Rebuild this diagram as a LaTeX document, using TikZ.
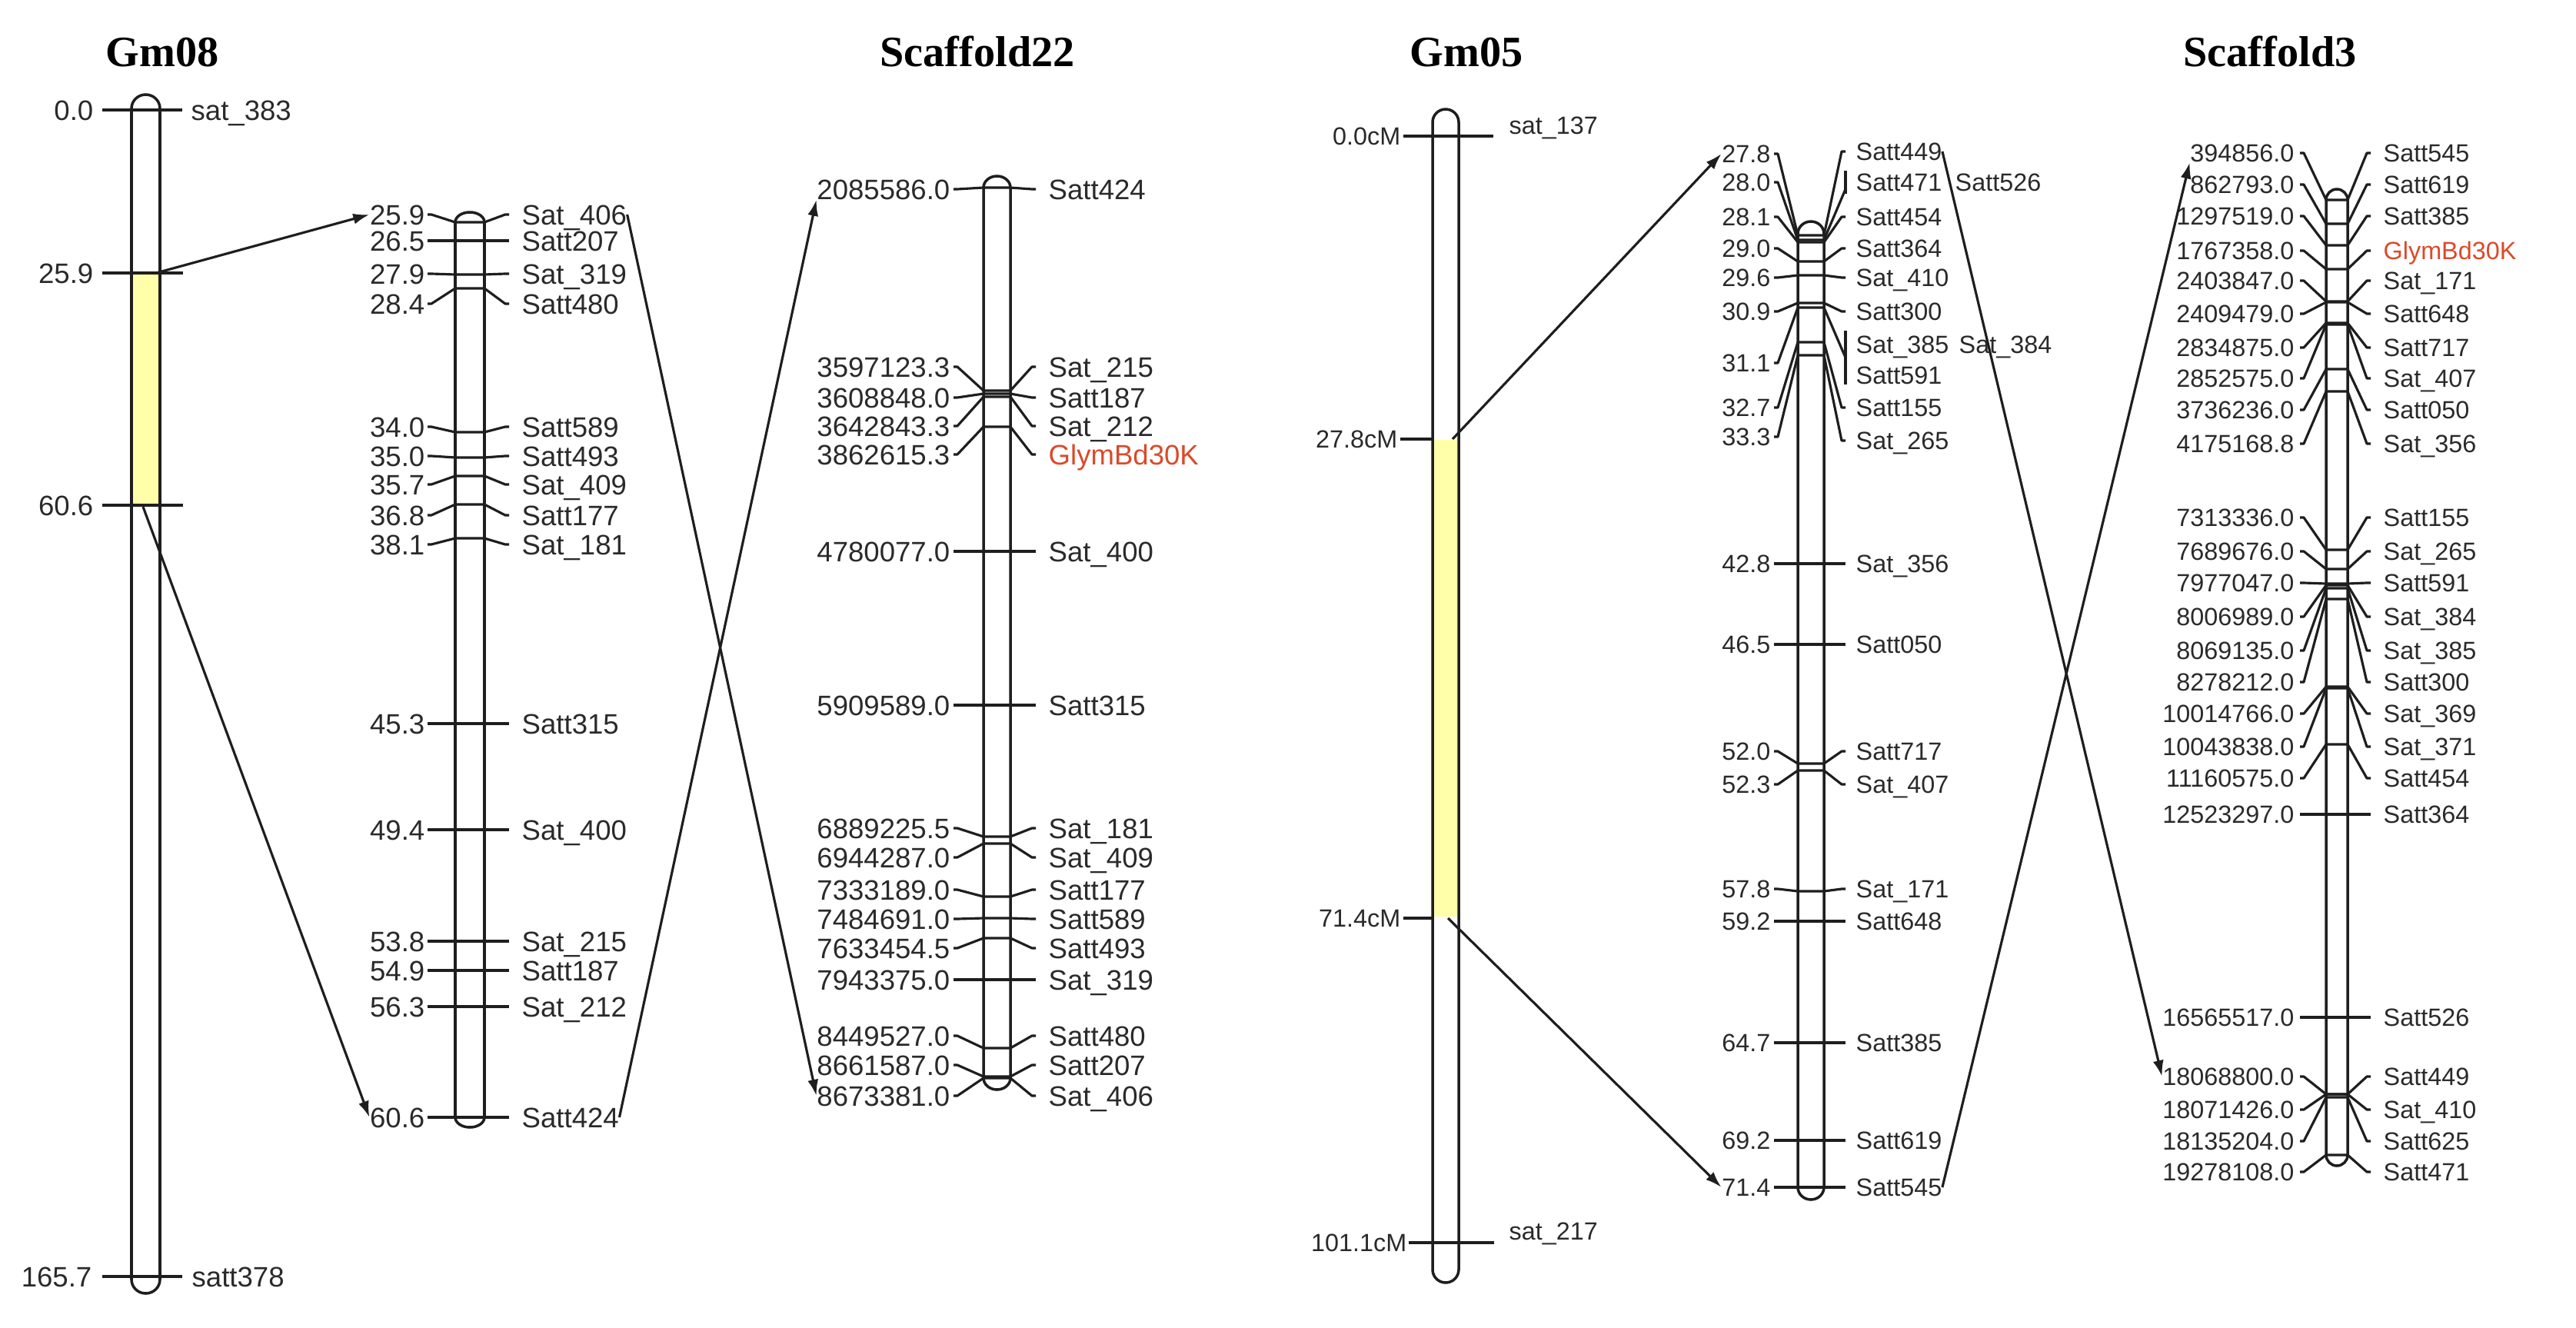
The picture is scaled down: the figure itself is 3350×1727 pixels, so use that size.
\documentclass[tikz,border=0pt]{standalone}
\usepackage{fontspec}
\setmainfont{Liberation Sans}
\newfontfamily\titlefont{Liberation Serif}
\usetikzlibrary{arrows.meta}
\definecolor{txt}{HTML}{2A2A2A}
\definecolor{ln}{HTML}{1E1E1E}
\definecolor{ylw}{HTML}{FFFFAA}
\definecolor{glym}{HTML}{DA4A2A}
\newcommand\setlg[6]{\def\lgLX{#1}\def\lgLS{#2}\def\lgBL{#3}\def\lgBR{#4}\def\lgRE{#5}\def\lgRX{#6}}
\newcommand\chrbar[5]{%
  \draw[barline] ({#1-#2},-#3) arc[start angle=180,end angle=0,x radius=#2,y radius=#5]
    -- ({#1+#2},-#4) arc[start angle=0,end angle=-180,x radius=#2,y radius=#5] -- cycle;}
\newcommand\mkb[6]{%
  \node[lbl,anchor=east] (#1n) at (\lgLX,-#2) {#5};
  \node[lbl,anchor=west] (#1m) at (\lgRX,-#4) {#6};
  \draw[mkline] (\lgLS,-#2) -- ({\lgLS+5},-#2) -- (\lgBL,-#3) -- (\lgBR,-#3) -- ({\lgRE-5},-#4) -- (\lgRE,-#4);}
\newcommand\mk[5]{\mkb{#1}{#2}{#3}{#2}{#4}{#5}}
\begin{document}
\begin{tikzpicture}[x=0.01cm,y=0.01cm,
  lblA/.style={font=\fontsize{10.4}{12}\selectfont, text=txt, inner sep=0pt, text height=7.4pt, text depth=0pt},
  lblB/.style={font=\fontsize{9.2}{11}\selectfont, text=txt, inner sep=0pt, text height=6.6pt, text depth=0pt},
  lbl/.style={lblA},
  ttl/.style={font=\titlefont\bfseries\fontsize{16}{19}\selectfont, anchor=base, inner sep=0pt},
  mkline/.style={draw=ln, line width=0.9pt, line join=round},
  barline/.style={draw=ln, line width=1.0pt},
  conn/.style={draw=ln, line width=0.9pt, -{Latex[length=6pt,width=4pt]}}]
\fill[white] (0,-1727) rectangle (3350,0);
\useasboundingbox (0,-1727) rectangle (3350,0);

% titles
\node[ttl] (t1) at (211,-87) {Gm08};
\node[ttl] (t2) at (1271,-87) {Scaffold22};
\node[ttl] (t3) at (1907,-87) {Gm05};
\node[ttl] (t4) at (2952,-87) {Scaffold3};

% ---------- Gm08 chromosome ----------
\fill[ylw] (171,-355) rectangle (208,-657);
\chrbar{189.5}{18.5}{141}{1664}{18}
\draw[mkline] (133,-143) -- (237,-143);
\draw[mkline] (133,-355) -- (238,-355);
\draw[mkline] (133,-657) -- (238,-657);
\draw[mkline] (133,-1660) -- (237,-1660);
\node[lbl,anchor=east] (g8a) at (122,-143) {0.0};
\node[lbl,anchor=east] (g8b) at (122,-355) {25.9};
\node[lbl,anchor=east] (g8c) at (122,-657) {60.6};
\node[lbl,anchor=east] (g8d) at (120,-1660) {165.7};
\node[lbl,anchor=west] (g8e) at (248,-143) {sat\_383};
\node[lbl,anchor=west] (g8f) at (249,-1660) {satt378};

% ---------- Gm08 linkage group ----------
\setlg{553}{556}{592}{630}{662}{678}
\chrbar{611}{19}{289}{1453}{13}
\mk{a1}{279}{289}{25.9}{Sat\_406}
\mk{a2}{313}{313}{26.5}{Satt207}
\mk{a3}{356}{357}{27.9}{Sat\_319}
\mk{a4}{395}{375}{28.4}{Satt480}
\mk{a5}{555}{562}{34.0}{Satt589}
\mk{a6}{593}{595}{35.0}{Satt493}
\mk{a7}{630}{619}{35.7}{Sat\_409}
\mk{a8}{670}{656}{36.8}{Satt177}
\mk{a9}{708}{700}{38.1}{Sat\_181}
\mk{a10}{941}{941}{45.3}{Satt315}
\mk{a11}{1079}{1079}{49.4}{Sat\_400}
\mk{a12}{1224}{1224}{53.8}{Sat\_215}
\mk{a13}{1262}{1262}{54.9}{Satt187}
\mk{a14}{1309}{1309}{56.3}{Sat\_212}
\mk{a15}{1453}{1453}{60.6}{Satt424}

% ---------- Scaffold22 ----------
\setlg{1236}{1240}{1279}{1314}{1347}{1363}
\chrbar{1296.5}{17.5}{244}{1402}{15}
\mk{b1}{246}{244}{2085586.0}{Satt424}
\mk{b2}{477}{508}{3597123.3}{Sat\_215}
\mk{b3}{517}{512}{3608848.0}{Satt187}
\mk{b4}{554}{516}{3642843.3}{Sat\_212}
\mk{b5}{591}{555}{3862615.3}{\textcolor{glym}{GlymBd30K}}
\mk{b6}{717}{717}{4780077.0}{Sat\_400}
\mk{b7}{917}{917}{5909589.0}{Satt315}
\mk{b8}{1077}{1088}{6889225.5}{Sat\_181}
\mk{b9}{1115}{1097}{6944287.0}{Sat\_409}
\mk{b10}{1157}{1166}{7333189.0}{Satt177}
\mk{b11}{1195}{1194}{7484691.0}{Satt589}
\mk{b12}{1233}{1220}{7633454.5}{Satt493}
\mk{b13}{1274}{1274}{7943375.0}{Sat\_319}
\mk{b14}{1347}{1363}{8449527.0}{Satt480}
\mk{b15}{1385}{1400}{8661587.0}{Satt207}
\mk{b16}{1425}{1402}{8673381.0}{Sat\_406}

\tikzset{lbl/.style={lblB}}
% ---------- Gm05 chromosome ----------
\fill[ylw] (1863,-572) rectangle (1897,-1192);
\chrbar{1880}{17}{159}{1651}{17}
\draw[mkline] (1825,-177) -- (1942,-177);
\draw[mkline] (1821,-571) -- (1863,-571);
\draw[mkline] (1825,-1194) -- (1864,-1194);
\draw[mkline] (1832,-1616) -- (1943,-1616);
\node[lbl,anchor=east] (g5a) at (1822,-177) {0.0cM};
\node[lbl,anchor=east] (g5b) at (1818,-571) {27.8cM};
\node[lbl,anchor=east] (g5c) at (1822,-1194) {71.4cM};
\node[lbl,anchor=east] (g5d) at (1830,-1616) {101.1cM};
\node[lbl,anchor=west] (g5e) at (1962,-163) {sat\_137};
\node[lbl,anchor=west] (g5f) at (1962,-1601) {sat\_217};

% ---------- Gm05 linkage group ----------
\setlg{2303}{2307}{2338}{2372}{2400}{2413}
\chrbar{2355}{17}{304}{1544}{16}
\mkb{c1}{200}{306}{197}{27.8}{Satt449}
% 28.0 bracket
\node[lbl,anchor=east] (c2n) at (2303,-237) {28.0};
\node[lbl,anchor=west] (c2m) at (2413,-237) {Satt471};
\node[lbl,anchor=west] (c2p) at (2542,-237) {Satt526};
\draw[mkline] (2307,-237) -- (2312,-237) -- (2338,-312) -- (2372,-312) -- (2400,-246);
\draw[mkline] (2400,-222) -- (2400,-252);
\mk{c3}{282}{315}{28.1}{Satt454}
\mk{c4}{323}{340}{29.0}{Satt364}
\mk{c5}{361}{358}{29.6}{Sat\_410}
\mk{c6}{405}{394}{30.9}{Satt300}
% 31.1 bracket
\node[lbl,anchor=east] (c7n) at (2303,-472) {31.1};
\node[lbl,anchor=west] (c7m) at (2413,-448) {Sat\_385};
\node[lbl,anchor=west] (c7p) at (2547,-448) {Sat\_384};
\node[lbl,anchor=west] (c7q) at (2413,-488) {Satt591};
\draw[mkline] (2307,-472) -- (2312,-472) -- (2338,-400) -- (2372,-400) -- (2400,-465);
\draw[mkline] (2400,-430) -- (2400,-500);
\mk{c8}{530}{445}{32.7}{Satt155}
\mkb{c9}{568}{462}{573}{33.3}{Sat\_265}
\mk{c10}{733}{733}{42.8}{Sat\_356}
\mk{c11}{838}{838}{46.5}{Satt050}
\mk{c12}{977}{993}{52.0}{Satt717}
\mk{c13}{1020}{1002}{52.3}{Sat\_407}
\mk{c14}{1156}{1159}{57.8}{Sat\_171}
\mk{c15}{1198}{1198}{59.2}{Satt648}
\mk{c16}{1356}{1356}{64.7}{Satt385}
\mk{c17}{1483}{1483}{69.2}{Satt619}
\mk{c18}{1544}{1544}{71.4}{Satt545}

% ---------- Scaffold3 ----------
\setlg{2984}{2991}{3025}{3053}{3083}{3099}
\chrbar{3039}{14}{260}{1502}{14}
\mk{d1}{199}{260}{394856.0}{Satt545}
\mk{d2}{240}{291}{862793.0}{Satt619}
\mk{d3}{281}{319}{1297519.0}{Satt385}
\mk{d4}{326}{350}{1767358.0}{\textcolor{glym}{GlymBd30K}}
\mk{d5}{365}{392}{2403847.0}{Sat\_171}
\mk{d6}{408}{393}{2409479.0}{Satt648}
\mk{d7}{452}{420}{2834875.0}{Satt717}
\mk{d8}{492}{422}{2852575.0}{Sat\_407}
\mk{d9}{533}{480}{3736236.0}{Satt050}
\mk{d10}{577}{509}{4175168.8}{Sat\_356}
\mk{d11}{673}{715}{7313336.0}{Satt155}
\mk{d12}{717}{740}{7689676.0}{Sat\_265}
\mk{d13}{758}{759}{7977047.0}{Satt591}
\mk{d14}{802}{761}{8006989.0}{Sat\_384}
\mk{d15}{846}{765}{8069135.0}{Sat\_385}
\mk{d16}{887}{779}{8278212.0}{Satt300}
\mk{d17}{928}{893}{10014766.0}{Sat\_369}
\mk{d18}{971}{895}{10043838.0}{Sat\_371}
\mk{d19}{1012}{968}{11160575.0}{Satt454}
\mk{d20}{1059}{1059}{12523297.0}{Satt364}
\mk{d21}{1323}{1323}{16565517.0}{Satt526}
\mk{d22}{1400}{1423}{18068800.0}{Satt449}
\mk{d23}{1443}{1423}{18071426.0}{Sat\_410}
\mk{d24}{1484}{1427}{18135204.0}{Satt625}
\mk{d25}{1524}{1502}{19278108.0}{Satt471}

% ---------- connectors ----------
\coordinate (g8s1) at (203,-355);
\coordinate (g8s2) at (186,-659);
\coordinate (g5s1) at (1889,-571);
\coordinate (g5s2) at (1883,-1194);
\draw[conn] (g8s1) -- (a1n.west);
\draw[conn] (g8s2) -- (a15n.west);
\draw[conn] (a1m.east) -- (b16n.west);
\draw[conn] (a15m.east) -- (b1n.south west);
\draw[conn] (g5s1) -- (c1n.west);
\draw[conn] (g5s2) -- (c18n.west);
\draw[conn] (c1m.east) -- (d22n.west);
\draw[conn] (c18m.east) -- (d1n.south west);
\end{tikzpicture}
\end{document}
